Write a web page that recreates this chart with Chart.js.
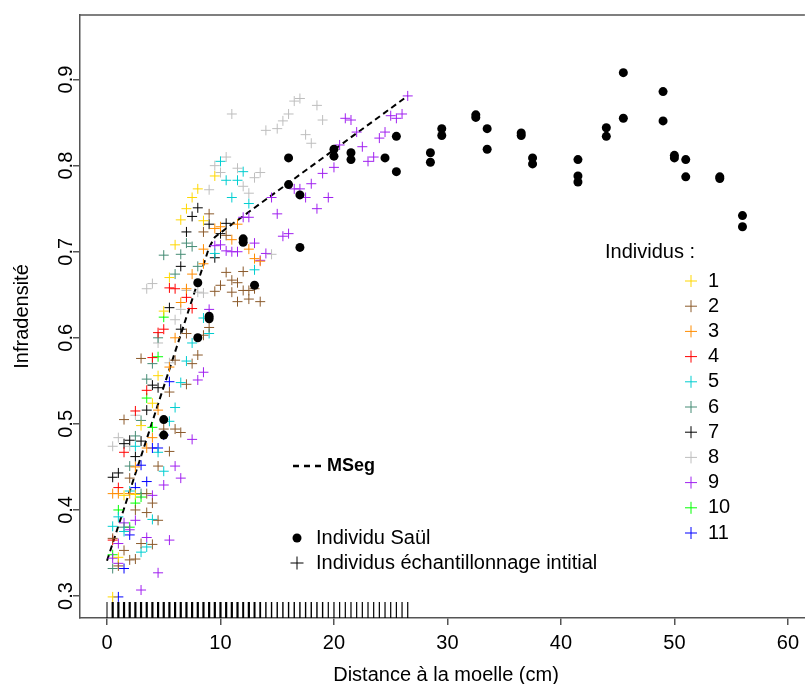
<!DOCTYPE html>
<html>
<head>
<meta charset="utf-8">
<script src="https://cdn.jsdelivr.net/npm/chart.js@4.4.0/dist/chart.umd.min.js"></script>
<style>
  html, body { margin: 0; padding: 0; background: #fff; }
  #wrap { width: 805px; height: 684px; }
</style>
</head>
<body>
<div id="wrap"><canvas id="chart" width="805" height="684"></canvas></div>
<script>
// Data: [distance (cm), infradensity]
const ind1 = [[0.5,0.299],[1,0.345],[1.5,0.417],[2.5,0.418],[3,0.498],[4,0.524],[4.5,0.556],[5,0.631],[5.5,0.670],[6,0.708],[6.5,0.737],[7,0.750],[7.5,0.763],[8,0.773],[8.5,0.736],[9.5,0.788]];
const ind2 = [[0.5,0.367],[1,0.335],[1.5,0.505],[1.5,0.353],[2,0.437],[2,0.342],[2.5,0.400],[2.5,0.343],[3,0.576],[3,0.361],[3.5,0.419],[3.5,0.397],[4,0.408],[4,0.360],[4.5,0.451],[4.5,0.388],[5,0.494],[5.5,0.537],[5.5,0.468],[6,0.574],[6,0.494],[6.5,0.490],[7,0.605],[7,0.546],[7.5,0.570],[8,0.580],[8.5,0.723],[8.5,0.603],[9,0.744],[9,0.612],[9.5,0.654],[10,0.661],[10.5,0.719],[10.5,0.676],[11,0.667],[11,0.653],[11.5,0.664],[11.5,0.642],[12,0.677],[12,0.655],[12.5,0.655],[12.5,0.645],[13,0.657],[13.5,0.642]];
const ind3 = [[0.5,0.419],[1,0.419],[2,0.419],[2.5,0.450],[3.5,0.472],[4,0.484],[4.5,0.516],[5.5,0.566],[6,0.600],[6.5,0.641],[7,0.657],[7.5,0.674],[8.5,0.703],[8.5,0.686],[9.5,0.727],[10,0.729],[11,0.714],[11.5,0.732],[12.5,0.703],[13,0.692],[13.5,0.689]];
const ind4 = [[0.5,0.365],[1,0.426],[1.5,0.467],[2.5,0.515],[3.5,0.539],[4,0.577],[4.5,0.606],[5,0.610],[5.5,0.658],[6,0.657],[7,0.647],[7.5,0.634]];
const ind5 = [[0.5,0.381],[1,0.392],[1.5,0.375],[2,0.422],[2.5,0.474],[3,0.351],[3.5,0.357],[4,0.389],[4.5,0.467],[5,0.445],[5.5,0.503],[6,0.519],[6.5,0.548],[7,0.573],[7.5,0.594],[8.5,0.623],[9,0.605],[9.5,0.698],[10,0.805],[10.5,0.783],[11,0.763],[11.5,0.783],[12,0.793],[12.5,0.756],[13,0.679]];
const ind6 = [[0.5,0.332],[1.5,0.380],[2,0.451],[2.5,0.486],[3,0.504],[3,0.419],[3.5,0.552],[4,0.570],[4.5,0.600],[5,0.696],[6,0.674],[6.5,0.697],[7,0.710],[7.5,0.706],[8,0.683]];
const ind7 = [[0.5,0.438],[1,0.443],[1.5,0.477],[2,0.481],[2.5,0.462],[3,0.480],[3.5,0.516],[4,0.545],[4.5,0.542],[5.5,0.635],[6.5,0.683],[6.5,0.610],[7,0.723],[7.5,0.741],[8,0.751],[9,0.732],[9.5,0.693],[10,0.721],[10.5,0.733]];
const ind8 = [[0.5,0.474],[1,0.484],[2,0.474],[2.5,0.510],[3.5,0.657],[4,0.663],[4.5,0.594],[5.5,0.571],[6,0.621],[6.5,0.633],[7,0.655],[8,0.653],[8.5,0.652],[9,0.772],[9.5,0.800],[10,0.792],[10.5,0.810],[11,0.860],[11.5,0.797],[12,0.776],[12.5,0.768],[13,0.786],[13.5,0.792],[14,0.841],[14.5,0.697],[15,0.843],[15.5,0.852],[16,0.860],[16.5,0.875],[17,0.878],[17.5,0.836],[18,0.826],[18.5,0.870],[19,0.853]];
const ind9 = [[0.5,0.344],[1,0.361],[1,0.338],[1.5,0.385],[2,0.377],[2.5,0.388],[3,0.307],[3.5,0.368],[4,0.417],[4.5,0.327],[5,0.429],[5.5,0.365],[6,0.451],[6.5,0.437],[7.5,0.482],[8,0.551],[8.5,0.560],[9,0.633],[9.5,0.707],[10,0.708],[10.5,0.701],[11,0.700],[11.5,0.700],[12,0.740],[12.5,0.740],[13,0.710],[13.5,0.690],[14,0.698],[14.5,0.763],[15,0.744],[15.5,0.718],[16,0.721],[16.5,0.773],[17,0.773],[17.5,0.763],[18,0.779],[18.5,0.750],[19,0.791],[19.5,0.763],[20,0.798],[20.5,0.824],[21,0.855],[21.5,0.853],[22,0.839],[22.5,0.822],[23,0.805],[23.5,0.810],[24,0.832],[24.5,0.839],[25,0.858],[25.5,0.855],[26,0.860],[26.5,0.881]];
const ind10 = [[0.5,0.348],[1,0.400],[2,0.380],[2.5,0.408],[3,0.415],[3.5,0.530],[4,0.496],[4.5,0.578],[5,0.624]];
const ind11 = [[1,0.299],[1.5,0.332],[2,0.371],[2.5,0.426],[3,0.452],[3.5,0.433],[4,0.472],[4.5,0.472],[5,0.487],[5.5,0.549]];

const saul = [[5,0.505],[5,0.487],[8,0.664],[8,0.600],[9,0.625],[9,0.622],[12,0.715],[12,0.711],[13,0.661],[16,0.809],[16,0.778],[17,0.766],[17,0.705],[20,0.819],[20,0.811],[21.5,0.815],[21.5,0.807],[24.5,0.809],[25.5,0.834],[25.5,0.793],[28.5,0.815],[28.5,0.804],[29.5,0.843],[29.5,0.835],[32.5,0.859],[32.5,0.856],[33.5,0.843],[33.5,0.819],[36.5,0.838],[36.5,0.835],[37.5,0.809],[37.5,0.802],[41.5,0.807],[41.5,0.788],[41.5,0.781],[44,0.844],[44,0.834],[45.5,0.908],[45.5,0.855],[49,0.886],[49,0.852],[50,0.812],[50,0.809],[51,0.807],[51,0.787],[54,0.787],[54,0.785],[56,0.742],[56,0.729]];

// segmented model fit
const mseg = [[0,0.341],[9,0.705],[9.5,0.717],[10.5,0.727],[26.5,0.881]];

// rug positions along the x axis
const rugTicks = [0,0.5,1,1.5,2,2.5,3,3.5,4,4.5,5,5.5,6,6.5,7,7.5,8,8.5,9,9.5,10,10.5,11,11.5,12,12.5,13,13.5,14,14.5,15,15.5,16,16.5,17,17.5,18,18.5,19,19.5,20,20.5,21,21.5,22,22.5,23,23.5,24,24.5,25,25.5,26,26.5];

const individuals = [ind1, ind2, ind3, ind4, ind5, ind6, ind7, ind8, ind9, ind10, ind11];
const indLabels = ['1','2','3','4','5','6','7','8','9','10','11'];
const indColors = ['#FFD700','#8B5A2B','#FF8C00','#FF0000','#00CED1','#458B74','#000000','#BEBEBE','#A020F0','#00FF00','#0000FF'];

const FONT = '"Liberation Sans", Arial, sans-serif';
const AXIS = '#555';

const toXY = arr => arr.map(p => ({ x: p[0], y: p[1] }));

const datasets = [{
  label: 'Individu Saül',
  data: toXY(saul),
  pointStyle: 'circle',
  pointRadius: 4.5,
  backgroundColor: '#000',
  borderColor: '#000',
  borderWidth: 0
}];
individuals.forEach((d, i) => {
  datasets.push({
    label: indLabels[i],
    data: toXY(d),
    pointStyle: 'cross',
    pointRadius: 5,
    borderColor: indColors[i],
    backgroundColor: indColors[i],
    borderWidth: 1
  });
});
datasets.push({
  type: 'line',
  label: 'MSeg',
  data: toXY(mseg),
  borderColor: '#000',
  borderWidth: 2,
  borderDash: [6, 4],
  pointRadius: 0,
  fill: false,
  tension: 0
});

function cross(ctx, x, y, r, color) {
  ctx.strokeStyle = color;
  ctx.lineWidth = 1;
  ctx.beginPath();
  ctx.moveTo(x - r, y); ctx.lineTo(x + r, y);
  ctx.moveTo(x, y - r); ctx.lineTo(x, y + r);
  ctx.stroke();
}

// R-like decorations: rug, box, rotated tick labels, titles, legends
const decor = {
  id: 'decor',
  beforeDatasetsDraw(chart) {
    const ctx = chart.ctx;
    const xs = chart.scales.x;
    const bottom = chart.chartArea.bottom;
    ctx.save();
    ctx.strokeStyle = '#000';
    rugTicks.forEach(v => {
      let n = 0;
      individuals.forEach(d => d.forEach(p => { if (p[0] === v) n++; }));
      ctx.lineWidth = 1 + 0.2 * Math.min(n, 6);
      const px = xs.getPixelForValue(v);
      ctx.beginPath();
      ctx.moveTo(px, bottom);
      ctx.lineTo(px, bottom - 16);
      ctx.stroke();
    });
    ctx.restore();
  },
  afterDraw(chart) {
    const ctx = chart.ctx;
    const { left, right, top, bottom } = chart.chartArea;
    const ys = chart.scales.y;
    ctx.save();

    // box top
    ctx.strokeStyle = AXIS;
    ctx.lineWidth = 1.5;
    ctx.beginPath();
    ctx.moveTo(left, top); ctx.lineTo(right, top);
    ctx.stroke();

    ctx.fillStyle = '#000';
    ctx.font = '20px ' + FONT;
    ctx.textAlign = 'center';
    ctx.textBaseline = 'middle';

    // y tick labels, rotated like R
    ys.ticks.forEach(t => {
      const py = ys.getPixelForValue(t.value);
      ctx.save();
      ctx.translate(66, py);
      ctx.rotate(-Math.PI / 2);
      ctx.fillText(t.value.toFixed(1), 0, 0);
      ctx.restore();
    });

    // axis titles
    ctx.save();
    ctx.translate(22, (top + bottom) / 2);
    ctx.rotate(-Math.PI / 2);
    ctx.fillText('Infradensité', 0, 0);
    ctx.restore();
    ctx.fillText('Distance à la moelle (cm)', 446, 675);

    // legend: individuals
    ctx.textAlign = 'left';
    ctx.fillText('Individus :', 605, 252);
    indLabels.forEach((lab, i) => {
      const y = 281 + i * 25.2;
      cross(ctx, 691, y, 6, indColors[i]);
      ctx.fillStyle = '#000';
      ctx.fillText(lab, 708, y);
    });

    // legend: MSeg
    ctx.strokeStyle = '#000';
    ctx.lineWidth = 2.5;
    ctx.setLineDash([6, 5]);
    ctx.beginPath();
    ctx.moveTo(293, 466); ctx.lineTo(323, 466);
    ctx.stroke();
    ctx.setLineDash([]);
    ctx.font = 'bold 18px ' + FONT;
    ctx.fillText('MSeg', 327, 466);

    // legend: symbols
    ctx.font = '20px ' + FONT;
    ctx.beginPath();
    ctx.arc(297, 538, 4.5, 0, Math.PI * 2);
    ctx.fill();
    ctx.fillText('Individu Saül', 316, 538);
    cross(ctx, 297, 563, 6.5, '#000');
    ctx.fillStyle = '#000';
    ctx.fillText('Individus échantillonnage intitial', 316, 563);

    ctx.restore();
  }
};

new Chart(document.getElementById('chart'), {
  type: 'scatter',
  data: { datasets },
  options: {
    responsive: false,
    animation: false,
    devicePixelRatio: 1,
    layout: { autoPadding: false, padding: { top: 14, right: 0, left: 0, bottom: 0 } },
    plugins: {
      legend: { display: false },
      tooltip: { enabled: false }
    },
    scales: {
      x: {
        type: 'linear',
        position: 'bottom',
        min: -2.38,
        max: 61.5,
        afterFit: s => { s.height = 66; },
        ticks: {
          stepSize: 10,
          includeBounds: false,
          color: '#000',
          font: { family: FONT, size: 20 },
          padding: 6,
          maxRotation: 0
        },
        grid: { drawOnChartArea: false, drawTicks: true, tickLength: 7, color: AXIS, lineWidth: 1.5 },
        border: { color: AXIS, width: 1.5 }
      },
      y: {
        type: 'linear',
        min: 0.2745,
        max: 0.975,
        afterFit: s => { s.width = 80; },
        ticks: {
          stepSize: 0.1,
          includeBounds: false,
          color: 'rgba(0,0,0,0)',
          font: { family: FONT, size: 20 }
        },
        grid: { drawOnChartArea: false, drawTicks: true, tickLength: 7, color: AXIS, lineWidth: 1.5 },
        border: { color: AXIS, width: 1.5 }
      }
    }
  },
  plugins: [decor]
});
</script>
</body>
</html>
